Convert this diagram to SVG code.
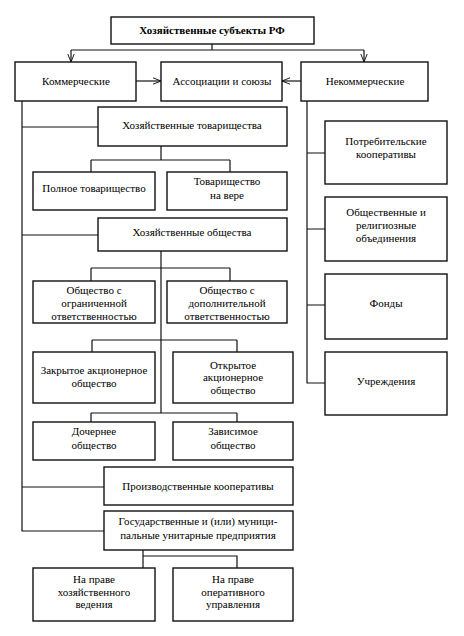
<svg xmlns="http://www.w3.org/2000/svg" width="464" height="636" viewBox="0 0 464 636">
<defs>
<style>
.box{fill:#fff;stroke:#111;stroke-width:1.4}
.ln{fill:none;stroke:#111;stroke-width:1.2}
.t text{font-family:'Liberation Serif','DejaVu Serif',serif;font-size:11px;fill:#000;text-anchor:middle}
.b{font-weight:bold}
</style>
<marker id="ar" viewBox="0 0 10 10" refX="10" refY="5" markerWidth="8" markerHeight="8" orient="auto" markerUnits="userSpaceOnUse">
<path d="M0,1 L10,5 L0,9" fill="none" stroke="#111" stroke-width="1.2"/>
</marker>
</defs>
<rect width="464" height="636" fill="#fff"/>
<g id="connectors">
<path class="ln" d="M212,44 V50 M71,50 H364"/>
<path class="ln" d="M71,50 V62" marker-end="url(#ar)"/>
<path class="ln" d="M364,50 V62" marker-end="url(#ar)"/>
<path class="ln" d="M136,81 H161" marker-end="url(#ar)"/>
<path class="ln" d="M301,81 H282" marker-end="url(#ar)"/>
<path class="ln" d="M22,101 V531 H104 M22,127 H98 M22,235 H98 M22,487 H104"/>
<path class="ln" d="M307,101 V383 H325 M307,153 H325 M307,229 H325 M307,305 H325"/>
<path class="ln" d="M161,146 V160 M91,160 H230 M91,160 V172 M230,160 V172"/>
<path class="ln" d="M161,251 V413 M91,268 H230 M91,268 V281 M230,268 V281"/>
<path class="ln" d="M92,340 H237 M92,340 V352 M237,340 V352"/>
<path class="ln" d="M91,413 H237 M91,413 V422 M237,413 V422"/>
<path class="ln" d="M143,550 V568 M143,556 H237 V568"/>
</g>
<g class="t" font-family="Liberation Serif, DejaVu Serif, serif" font-size="11" text-anchor="middle">
<g id="n-root"><rect class="box" x="111" y="17" width="203" height="27"/><text class="b" x="212" y="34">Хозяйственные субъекты РФ</text></g>
<g id="n-kom"><rect class="box" x="15" y="62" width="121" height="39"/><text x="76" y="85">Коммерческие</text></g>
<g id="n-assoc"><rect class="box" x="161" y="62" width="121" height="39"/><text x="222" y="85">Ассоциации и союзы</text></g>
<g id="n-nekom"><rect class="box" x="301" y="62" width="127" height="39"/><text x="365" y="85">Некоммерческие</text></g>
<g id="n-htov"><rect class="box" x="98" y="107" width="189" height="39"/><text x="192" y="129">Хозяйственные товарищества</text></g>
<g id="n-poln"><rect class="box" x="33" y="172" width="122" height="38"/><text x="94" y="192">Полное товарищество</text></g>
<g id="n-vera"><rect class="box" x="167" y="172" width="120" height="38"/><text x="227" y="185">Товарищество</text><text x="227" y="199">на вере</text></g>
<g id="n-potr"><rect class="box" x="325" y="121" width="122" height="63"/><text x="386" y="145">Потребительские</text><text x="386" y="158">кооперативы</text></g>
<g id="n-obsh"><rect class="box" x="325" y="197" width="122" height="64"/><text x="386" y="216">Общественные и</text><text x="386" y="229">религиозные</text><text x="386" y="242">объединения</text></g>
<g id="n-hob"><rect class="box" x="98" y="218" width="189" height="33"/><text x="192" y="236">Хозяйственные общества</text></g>
<g id="n-ooo"><rect class="box" x="33" y="281" width="122" height="42"/><text x="94" y="294">Общество с</text><text x="94" y="307">ограниченной</text><text x="94" y="320">ответственностью</text></g>
<g id="n-odo"><rect class="box" x="167" y="281" width="120" height="42"/><text x="227" y="294">Общество с</text><text x="227" y="307">дополнительной</text><text x="227" y="320">ответственностью</text></g>
<g id="n-fond"><rect class="box" x="325" y="274" width="122" height="65"/><text x="386" y="307">Фонды</text></g>
<g id="n-zao"><rect class="box" x="33" y="352" width="122" height="51"/><text x="94" y="374">Закрытое акционерное</text><text x="94" y="387">общество</text></g>
<g id="n-oao"><rect class="box" x="173" y="352" width="120" height="51"/><text x="233" y="369">Открытое</text><text x="233" y="381">акционерное</text><text x="233" y="394">общество</text></g>
<g id="n-uchr"><rect class="box" x="325" y="352" width="122" height="63"/><text x="386" y="385">Учреждения</text></g>
<g id="n-doch"><rect class="box" x="33" y="422" width="122" height="38"/><text x="94" y="435">Дочернее</text><text x="94" y="449">общество</text></g>
<g id="n-zav"><rect class="box" x="173" y="422" width="120" height="38"/><text x="233" y="435">Зависимое</text><text x="233" y="449">общество</text></g>
<g id="n-proizv"><rect class="box" x="104" y="467" width="189" height="38"/><text x="198" y="490">Производственные кооперативы</text></g>
<g id="n-gos"><rect class="box" x="104" y="511" width="189" height="39"/><text x="198" y="525">Государственные и (или) муници-</text><text x="198" y="539">пальные унитарные предприятия</text></g>
<g id="n-hozved"><rect class="box" x="33" y="568" width="122" height="53"/><text x="94" y="583">На праве</text><text x="94" y="596">хозяйственного</text><text x="94" y="608">ведения</text></g>
<g id="n-operupr"><rect class="box" x="173" y="568" width="120" height="53"/><text x="233" y="583">На праве</text><text x="233" y="596">оперативного</text><text x="233" y="608">управления</text></g>
</g>
</svg>
